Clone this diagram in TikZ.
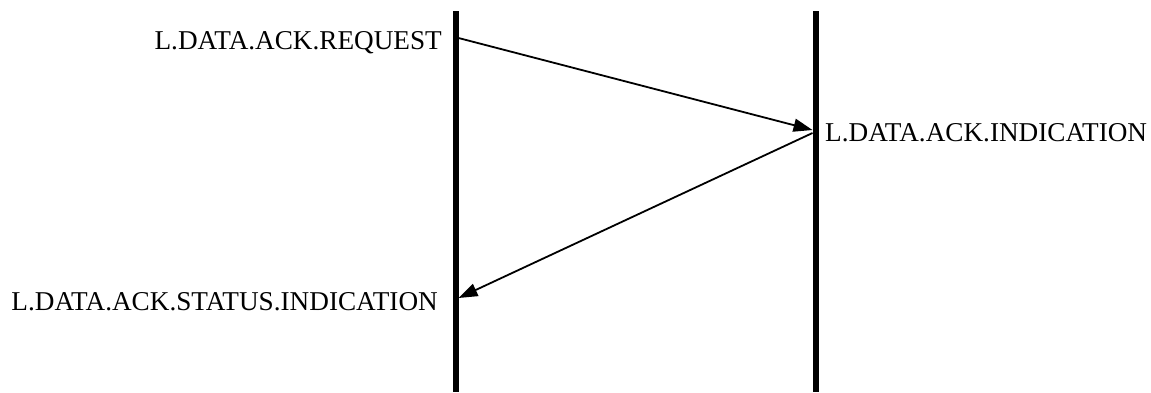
\documentclass[tikz,border=0pt]{standalone}
\usepackage{fontspec}
\setmainfont{Liberation Serif}
\usetikzlibrary{arrows.meta}
\tikzset{
  lifeline/.style={line width=6pt},
  msg/.style={-{Triangle[length=19pt,width=13pt]}, line width=1.8pt},
  primlabel/.style={inner sep=0pt, font=\fontsize{27.2}{31}\selectfont}
}
\begin{document}
\begin{tikzpicture}[x=1pt,y=-1pt]
  \useasboundingbox (0,0) rectangle (1151,392);
  % the two lifelines
  \coordinate (srcTop) at (455.5,11);
  \coordinate (srcBot) at (455.5,392);
  \coordinate (dstTop) at (815.5,11);
  \coordinate (dstBot) at (815.5,392);
  \draw[lifeline] (srcTop) -- (srcBot);
  \draw[lifeline] (dstTop) -- (dstBot);
  % points where the messages meet the lifelines
  \coordinate (reqPt) at (458.5,38);
  \coordinate (indPt) at (812.5,130);
  \coordinate (rspPt) at (812.5,133);
  \coordinate (statPt) at (458.5,298);
  % primitive names
  \node[primlabel, anchor=base east] (req) at (442,49) {L.DATA.ACK.REQUEST};
  \node[primlabel, anchor=base west] (ind) at (825,141) {L.DATA.ACK.INDICATION};
  \node[primlabel, anchor=base east] (stat) at (438,310) {L.DATA.ACK.STATUS.INDICATION};
  % messages
  \draw[msg] (reqPt) -- (indPt);
  \draw[msg] (rspPt) -- (statPt);
\end{tikzpicture}
\end{document}
